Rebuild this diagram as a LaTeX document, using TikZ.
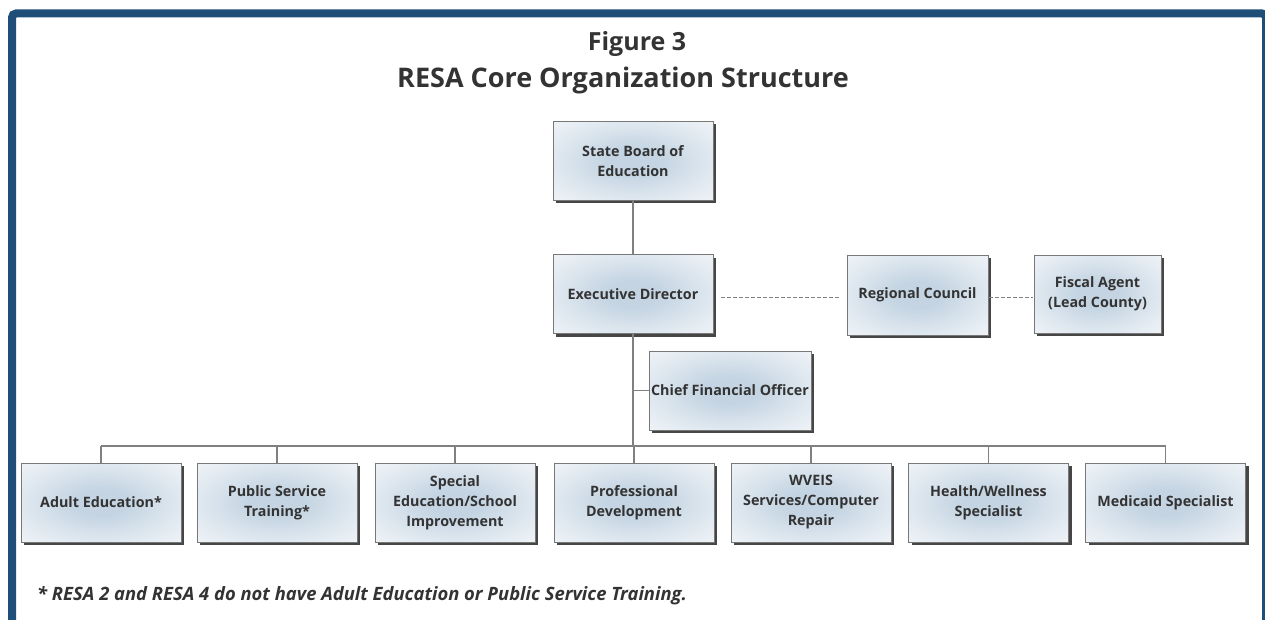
\documentclass[tikz,border=0pt]{standalone}
\usepackage{fontspec}
\setmainfont{Open Sans}
\usetikzlibrary{shadows}
\definecolor{framec}{RGB}{31,78,121}
\definecolor{txt}{RGB}{51,51,51}
\definecolor{lin}{RGB}{128,128,128}
\definecolor{boxin}{RGB}{196,212,226}
\definecolor{boxmid}{RGB}{226,234,241}
\definecolor{boxout}{RGB}{248,249,251}
\definecolor{boxline}{RGB}{120,120,120}
\pgfdeclareradialshading{boxshade}{\pgfpoint{0bp}{0bp}}{color(0bp)=(boxin); color(8bp)=(boxin); color(26bp)=(boxmid); color(42bp)=(boxout); color(50bp)=(boxout)}
\begin{document}
\begin{tikzpicture}[x=1pt,y=-1pt,
  box/.style={draw=boxline, line width=0.8pt, shading=boxshade,
    minimum width=160pt, minimum height=79pt, inner sep=1pt,
    font=\fontsize{14.3}{20}\selectfont\bfseries, text=txt, align=center,
    drop shadow={shadow xshift=3pt, shadow yshift=-3pt, fill=black!85, opacity=0.85}},
  conn/.style={draw=lin, line width=1.2pt},
  dashconn/.style={draw=lin, line width=1pt, dash pattern=on 4pt off 2pt, shorten <=8pt, shorten >=8pt}
]
\useasboundingbox (0,0) rectangle (1265,620);
\begin{scope}
  \clip (0,0) rectangle (1265,620);
  \draw[framec, line width=8pt, rounded corners=4pt] (12,13.5) rectangle (1266,700);
\end{scope}

\node[font=\fontsize{25}{30}\selectfont\bfseries, text=txt, anchor=base] (t1) at (637,51) {Figure 3};
\node[font=\fontsize{27}{30}\selectfont\bfseries, text=txt, anchor=base] (t2) at (623,88) {RESA Core Organization Structure};

\node[box] (sbe) at (633,161) {State Board of\\Education};
\node[box] (ed) at (633,294) {Executive Director};
\node[box, minimum width=141pt, minimum height=80pt] (rc) at (917.5,295) {Regional Council};
\node[box, minimum width=127pt, minimum height=78pt] (fa) at (1097.5,294) {Fiscal Agent\\(Lead County)};
\node[box, minimum width=162pt] (cfo) at (730,390.5) {Chief Financial Officer};

\node[box] (ae) at (101,502.5) {Adult Education*};
\node[box] (ps) at (277,502.5) {Public Service\\Training*};
\node[box] (se) at (455,502.5) {Special\\Education/School\\Improvement};
\node[box] (pd) at (634,502.5) {Professional\\Development};
\node[box] (wv) at (811,502.5) {WVEIS\\Services/Computer\\Repair};
\node[box] (hw) at (988.5,502.5) {Health/Wellness\\Specialist};
\node[box] (ms) at (1165.5,502.5) {Medicaid Specialist};

\coordinate (bus) at (633,446);
\draw[conn] (sbe.south) -- (ed.north);
\draw[conn] (ed.south) -- (bus);
\draw[conn] (cfo.west) -- (cfo.west -| bus);
\draw[conn] (ae.north |- bus) -- (ms.north |- bus);
\foreach \n in {ae,ps,se,pd,wv,hw,ms} \draw[conn] (\n.north |- bus) -- (\n.north);
\draw[dashconn] ([yshift=-3pt]ed.east) -- ([yshift=-3pt]ed.east -| rc.west);
\draw[dashconn, shorten <=1pt, shorten >=1pt] ([yshift=-2pt]rc.east) -- ([yshift=-2pt]rc.east -| fa.west);

\node[anchor=base west, font=\fontsize{18.4}{22}\selectfont\bfseries\itshape, text=txt, inner sep=0pt] (note) at (37,600) {* RESA 2 and RESA 4 do not have Adult Education or Public Service Training.};
\end{tikzpicture}
\end{document}
